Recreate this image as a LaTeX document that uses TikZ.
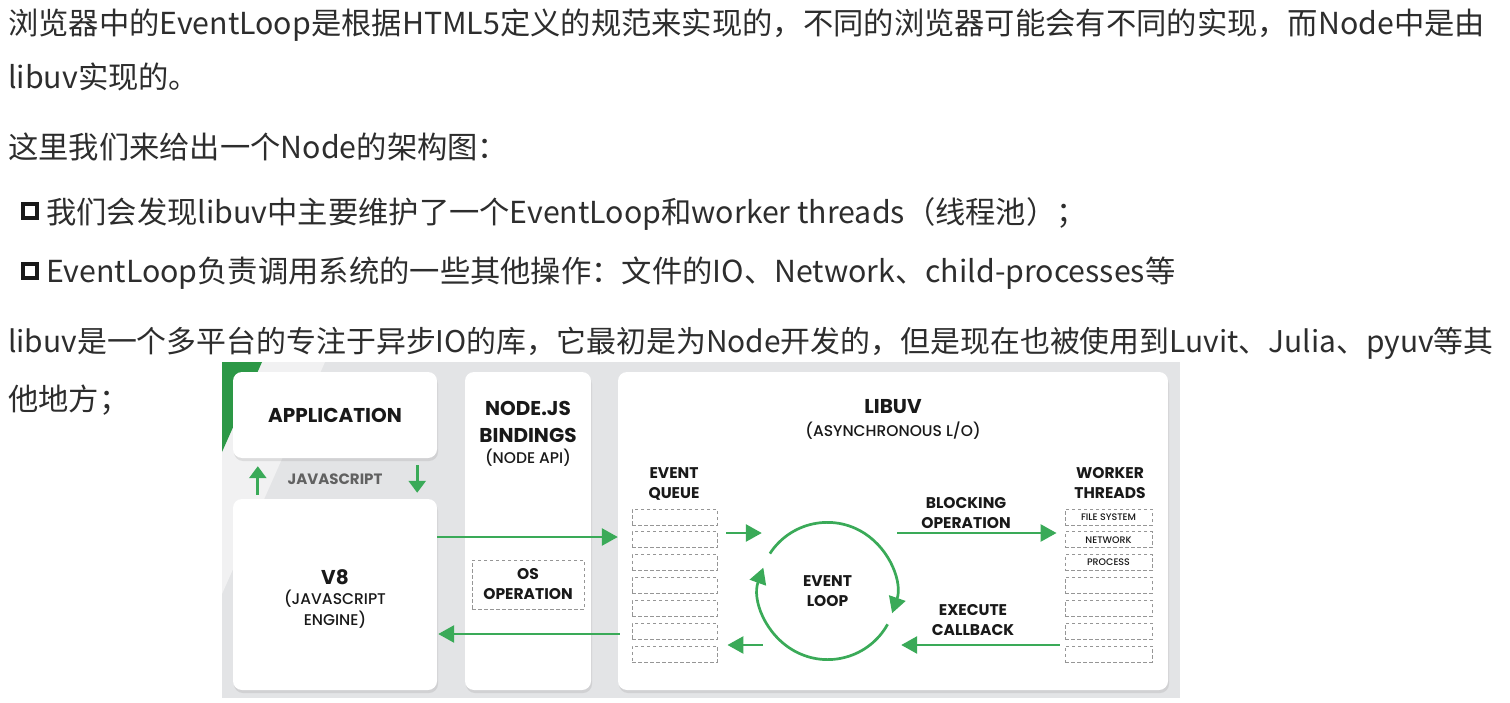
\documentclass[tikz,border=0pt]{standalone}
\usepackage{fontspec}
\setmainfont{Noto Sans CJK SC}
\newfontfamily\diagfont{Poppins}
\newfontfamily\diagmed{Poppins Medium}
\usetikzlibrary{arrows.meta,shadows,calc}

\definecolor{txt}{RGB}{45,45,45}
\definecolor{ink}{RGB}{25,25,25}
\definecolor{jsgreen}{RGB}{58,170,88}
\definecolor{cornergreen}{RGB}{44,152,70}
\definecolor{bggray}{RGB}{227,228,230}
\definecolor{bglight}{RGB}{241,241,242}
\definecolor{dashgray}{RGB}{150,150,150}

\begin{document}
\begin{tikzpicture}[x=1pt, y=-1pt,
  every node/.style = {inner sep=0pt, align=center, text=ink},
  flow/.style = {draw=jsgreen, line width=2.7pt,
    -{Triangle[length=16pt,width=17pt]}}]
    \tikzstyle{para}=[anchor=base west, text=txt, font=\fontsize{30.3}{36}\selectfont]
    \tikzstyle{tick}=[draw=ink, line width=4.2pt, minimum size=14pt]
    \tikzstyle{panel}=[fill=white, rounded corners=9pt,
      drop shadow={shadow xshift=1pt, shadow yshift=-3pt, opacity=.18}]
    \tikzstyle{cell}=[draw=dashgray, line width=.9pt,
      dash pattern=on 3.5pt off 2.5pt, minimum height=16pt]
    \tikzstyle{ttl}=[font=\diagfont\bfseries\fontsize{20}{24}\selectfont]
    \tikzstyle{hd}=[font=\diagfont\bfseries\fontsize{20}{27}\selectfont]
    \tikzstyle{lbl}=[font=\diagfont\bfseries\fontsize{15.5}{20}\selectfont]
    \tikzstyle{sub}=[font=\diagmed\fontsize{15.5}{21}\selectfont]
    \tikzstyle{tiny}=[font=\diagmed\fontsize{9.5}{11}\selectfont]
  \useasboundingbox (0,0) rectangle (1510,703);

  % text around the figure
  \node[para] (l1) at (8,35) {浏览器中的EventLoop是根据HTML5定义的规范来实现的，不同的浏览器可能会有不同的实现，而Node中是由};
  \node[para] (l2) at (8,88.5) {libuv实现的。};
  \node[para] (l3) at (8,158.5) {这里我们来给出一个Node的架构图：};
  \node[tick] (b1) at (30,211) {};
  \node[para] (l4) at (46,223.5) {我们会发现libuv中主要维护了一个EventLoop和worker threads（线程池）；};
  \node[tick] (b2) at (30,271) {};
  \node[para] (l5) at (46,282.5) {EventLoop负责调用系统的一些其他操作：文件的IO、Network、child-processes等};
  \node[para, font=\fontsize{29.9}{36}\selectfont] (l6) at (8,352.5) {libuv是一个多平台的专注于异步IO的库，它最初是为Node开发的，但是现在也被使用到Luvit、Julia、pyuv等其};
  \node[para] (l7) at (8,410.5) {他地方；};

  % background of the figure
  \fill[bggray] (222,362) rectangle (1180,698);
  \fill[bglight] (262,362) -- (325,362) -- (222,594) -- (222,452) -- cycle;
  \fill[cornergreen] (222,362) -- (262,362) -- (222,452) -- cycle;

  % panels
  \node[panel, minimum width=204pt, minimum height=86pt, ttl] (app) at (335,415) {APPLICATION};
  \node[panel, minimum width=204pt, minimum height=191pt] (v8) at (335,594.5) {};
  \node[panel, minimum width=126pt, minimum height=318pt] (nb) at (528,531) {};
  \node[panel, minimum width=550pt, minimum height=318pt] (uv) at (893,531) {};

  \node[hd] (v8name) at (335,577) {V8};
  \node[sub] (v8sub) at (335,609) {(JAVASCRIPT\\ENGINE)};
  \node[font=\diagfont\bfseries\fontsize{15}{17}\selectfont, text=black!62] (js) at (335,479) {JAVASCRIPT};
  \node[hd] (nbname) at (528,421.5) {NODE.JS\\BINDINGS};
  \node[sub] (nbsub) at (528,458) {(NODE API)};
  \node[cell, minimum width=112pt, minimum height=49pt, lbl] (osop) at (528,584.5) {OS\\OPERATION};
  \node[ttl] (uvname) at (893,407) {LIBUV};
  \node[sub] (uvsub) at (893,431) {(ASYNCHRONOUS L/O)};

  % queue and worker threads
  \node[lbl] (qname) at (674,484) {EVENT\\QUEUE};
  \node[lbl] (wname) at (1110,483) {WORKER\\THREADS};
  \foreach \i in {0,...,6} {
    \node[cell, minimum width=85pt] (q\i) at (674.5,517+22.83*\i) {};
    \node[cell, minimum width=87pt] (w\i) at (1108.5,517+22.83*\i) {};
  }
  \foreach \i/\t in {0/FILE SYSTEM,1/NETWORK,2/PROCESS}
    \node[tiny] (wt\i) at (w\i) {\t};

  % event loop
  \node[circle, minimum size=137pt, lbl] (loop) at (827.5,591) {EVENT\\LOOP};
  \draw[flow] (loop.147) arc[start angle=-147, end angle=19, radius=68.5];
  \draw[flow] (loop.-29) arc[start angle=29, end angle=200, radius=68.5];

  \node[lbl] (block) at (966,513) {BLOCKING\\OPERATION};
  \node[lbl] (exec) at (973,620.5) {EXECUTE\\CALLBACK};

  % connectors
  \coordinate (rowa) at (0,537);
  \coordinate (rowb) at (0,634);
  \coordinate (rowc) at (0,533);
  \coordinate (rowd) at (0,645);
  \draw[flow, -{Triangle[length=12pt,width=17pt]}] ([xshift=25pt,yshift=4pt]v8.north west) -- ([xshift=25pt,yshift=-8pt]app.south west);
  \draw[flow, -{Triangle[length=12pt,width=17pt]}] ([xshift=-20pt,yshift=-7pt]app.south east) -- ([xshift=-20pt,yshift=6pt]v8.north east);
  \draw[flow] (v8.east |- rowa) -- (uv.west |- rowa);
  \draw[flow] ($(uv.west |- rowb)+(2,0)$) -- ($(v8.east |- rowb)+(1,0)$);
  \draw[flow] ($(q0.east |- rowc)+(9,0)$) -- ($(loop.west |- rowc)+(3,0)$);
  \draw[flow] ($(loop.west |- rowd)+(4,0)$) -- ($(q6.east |- rowd)+(10,0)$);
  \draw[flow] ($(loop.east |- rowc)+(1,0)$) -- ($(w1.west |- rowc)+(-8,0)$);
  \draw[flow] ($(w6.west |- rowd)+(-5,0)$) -- ($(loop.east |- rowd)+(5,0)$);
\end{tikzpicture}
\end{document}
